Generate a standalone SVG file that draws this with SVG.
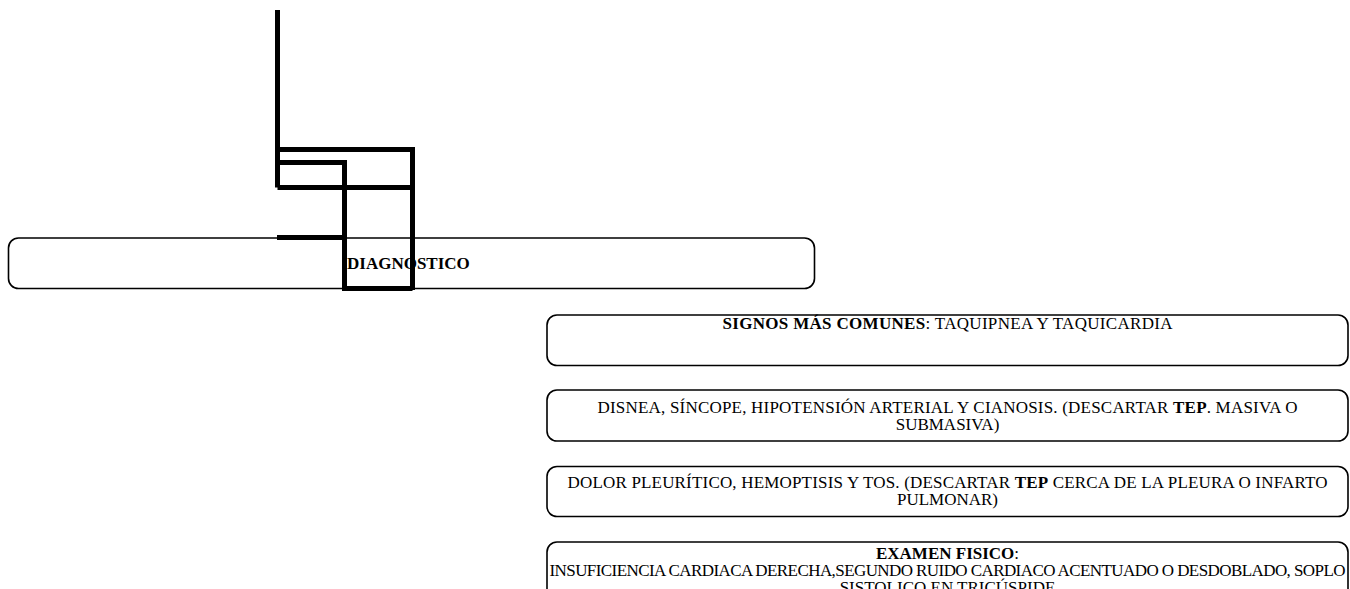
<svg xmlns="http://www.w3.org/2000/svg" width="1350" height="589" viewBox="0 0 1350 589">
<style>
.box{fill:#fff;stroke:#000;stroke-width:1.6}
.t{font-family:"Liberation Serif","Times New Roman",serif;font-size:17px;fill:#000}
.c{text-anchor:middle}
.b{font-weight:bold}
.con{fill:none;stroke:#000;stroke-width:5;stroke-linecap:butt;stroke-linejoin:miter}
</style>
<g id="n-diagnostico">
<rect class="box" x="8.5" y="238" width="806" height="50.5" rx="10"/>
<text class="t b" x="347" y="269">DIAGNOSTICO</text>
</g>
<g id="n-signos">
<rect class="box" x="547" y="315" width="801" height="50.5" rx="10"/>
<text class="t c" x="947.5" y="329" textLength="450"><tspan class="b">SIGNOS MÁS COMUNES</tspan>: TAQUIPNEA Y TAQUICARDIA</text>
</g>
<g id="n-disnea">
<rect class="box" x="547" y="390" width="801" height="51" rx="10"/>
<text class="t c" x="947.5" y="413" textLength="700">DISNEA, SÍNCOPE, HIPOTENSIÓN ARTERIAL Y CIANOSIS. (DESCARTAR <tspan class="b">TEP</tspan>. MASIVA O</text>
<text class="t c" x="947.5" y="430">SUBMASIVA)</text>
</g>
<g id="n-dolor">
<rect class="box" x="547" y="466.5" width="801" height="50" rx="10"/>
<text class="t c" x="947.5" y="488" textLength="760">DOLOR PLEURÍTICO, HEMOPTISIS Y TOS. (DESCARTAR <tspan class="b">TEP</tspan> CERCA DE LA PLEURA O INFARTO</text>
<text class="t c" x="947.5" y="505">PULMONAR)</text>
</g>
<g id="n-examen">
<rect class="box" x="547" y="542" width="801" height="70" rx="10"/>
<text class="t c" x="947.5" y="559"><tspan class="b">EXAMEN FISICO</tspan>:</text>
<text class="t c" x="947.5" y="576" textLength="796">INSUFICIENCIA CARDIACA DERECHA,SEGUNDO RUIDO CARDIACO ACENTUADO O DESDOBLADO, SOPLO</text>
<text class="t c" x="947.5" y="593">SISTOLICO EN TRICÚSPIDE</text>
</g>
<g id="connectors">
<path class="con" d="M277.5 10 V187.5"/>
<path class="con" d="M277.5 149.5 H412.5 V290"/>
<path class="con" d="M277.5 162.5 H344.5 V288.5 H412.5"/>
<path class="con" d="M277.5 187.5 H412.5"/>
<path class="con" d="M277 237.5 H344.5"/>
</g>
</svg>
